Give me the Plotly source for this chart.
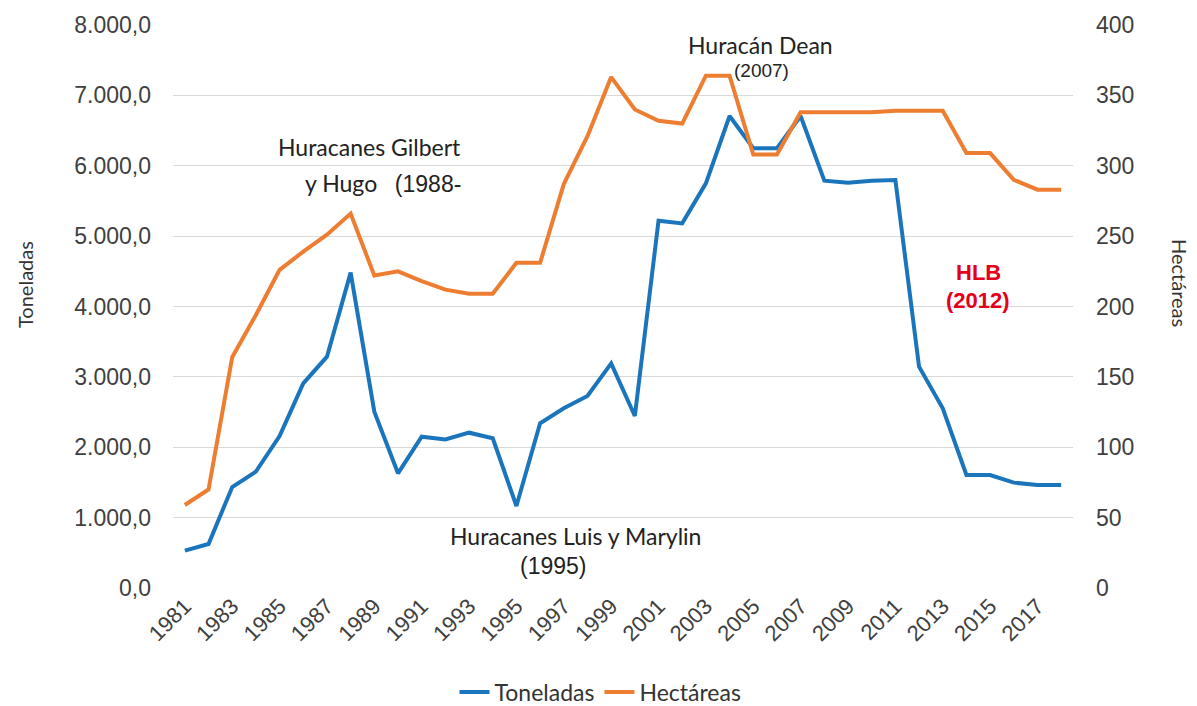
import plotly.graph_objects as go

years = list(range(1981, 2019))
toneladas = [530, 625, 1435, 1653, 2160, 2908, 3287, 4481, 2506, 1630,
             2150, 2112, 2207, 2127, 1165, 2340, 2553, 2728, 3192, 2444,
             5219, 5181, 5750, 6707, 6248, 6248, 6707, 5788, 5760, 5788,
             5798, 3145, 2553, 1606, 1606, 1497, 1464, 1464]
hectareas = [59, 70, 164, 194, 226, 239, 251, 266, 222, 225,
             218, 212, 209, 209, 231, 231, 287, 321, 363, 340,
             332, 330, 364, 364, 308, 308, 338, 338, 338, 338,
             339, 339, 339, 309, 309, 290, 283, 283]
xtick_years = list(range(1981, 2018, 2))
left_ticks = list(range(0, 8001, 1000))
left_labels = ["{:,.1f}".format(v).replace(",", "X").replace(".", ",").replace("X", ".") for v in left_ticks]
right_ticks = list(range(0, 401, 50))

BLUE = "#1B75BC"
ORANGE = "#ED7D31"
TXT = "#404040"
TITLE_FONT = "Lato"
NUM_FONT = "Liberation Sans"

fig = go.Figure()
fig.add_trace(go.Scatter(x=years, y=toneladas, name="Toneladas", mode="lines",
                         line=dict(color=BLUE, width=4), yaxis="y"))
fig.add_trace(go.Scatter(x=years, y=hectareas, name="Hectáreas", mode="lines",
                         line=dict(color=ORANGE, width=4), yaxis="y2"))

ann = []
def add(text, x, y, size=23, color="#222222", family=TITLE_FONT, bold=False):
    if bold:
        text = "<b>" + text + "</b>"
    ann.append(dict(text=text, x=x, y=y, xref="x", yref="y", showarrow=False,
                    font=dict(size=size, color=color, family=family),
                    xanchor="center", yanchor="middle"))

add("Huracanes Gilbert", 1988.78, 6266)
add("y Hugo   <span style='font-family:Liberation Sans'>(1988-</span>", 1989.37, 5755)
add("Huracán Dean", 2005.29, 7716)
add("(2007)", 2005.33, 7360, size=19, family=NUM_FONT)
add("Huracanes Luis y Marylin", 1997.48, 739)
add("(1995)", 1996.55, 313, size=23, family=NUM_FONT)
add("HLB", 2014.5, 4490, size=22, color="#E3001B", family=NUM_FONT, bold=True)
add("(2012)", 2014.5, 4092, size=22, color="#E3001B", family=NUM_FONT, bold=True)

ann.append(dict(text="Toneladas", x=(25 - 173) / 900, y=(588 - 285) / 563,
                xref="paper", yref="paper", showarrow=False, textangle=-90,
                font=dict(size=20, color="#333333", family=TITLE_FONT),
                xanchor="center", yanchor="middle"))
ann.append(dict(text="Hectáreas", x=(1180 - 173) / 900, y=(588 - 283) / 563,
                xref="paper", yref="paper", showarrow=False, textangle=90,
                font=dict(size=20, color="#333333", family=TITLE_FONT),
                xanchor="center", yanchor="middle"))

fig.update_layout(
    width=1197, height=706,
    margin=dict(l=173, r=124, t=25, b=118, autoexpand=False),
    paper_bgcolor="white", plot_bgcolor="white",
    showlegend=True,
    legend=dict(orientation="h", x=0.475, y=-0.185, xanchor="center", yanchor="middle",
                font=dict(size=23, color="#333333", family=TITLE_FONT),
                tracegroupgap=0),
    xaxis=dict(range=[1980.5, 2018.5], tickvals=xtick_years, ticktext=[str(y) for y in xtick_years],
               tickangle=-45, tickfont=dict(size=22, color=TXT, family=NUM_FONT),
               showgrid=False, zeroline=False, showline=False, ticks="", automargin=False),
    yaxis=dict(range=[0, 8000], tickvals=left_ticks, ticktext=left_labels,
               tickfont=dict(size=23, color=TXT, family=NUM_FONT),
               showgrid=True, gridcolor="#D9D9D9", gridwidth=1, zeroline=False,
               showline=False, ticks="", ticklabelstandoff=21, automargin=False),
    yaxis2=dict(range=[0, 400], tickvals=right_ticks, overlaying="y", side="right",
                tickfont=dict(size=23, color=TXT, family=NUM_FONT),
                showgrid=False, zeroline=False, showline=False, ticks="",
                ticklabelstandoff=22, automargin=False),
    annotations=ann,
)

fig.write_html("out.html", config={"displayModeBar": False},
               post_script="document.body.style.margin='0';document.body.style.overflow='hidden';")
